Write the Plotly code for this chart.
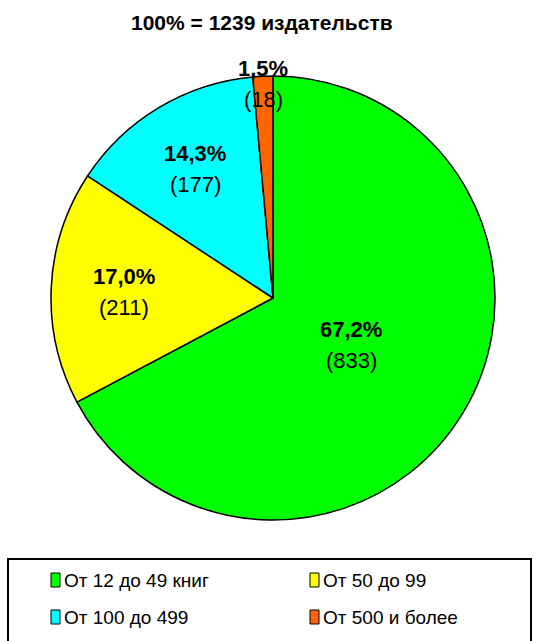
import math
import plotly.graph_objects as go

categories = ["От 12 до 49 книг", "От 50 до 99", "От 100 до 499", "От 500 и более"]
counts = [833, 211, 177, 18]
percents = [67.2, 17.0, 14.3, 1.5]
colors = ["#00FF00", "#FFFF00", "#00FFFF", "#FF6600"]
total_label = "100% = 1239 издательств"

W, H = 541, 641
cx, cy, R = 273, 298, 222          # pie centre / radius in px
label_r = [0.41, 0.67, 0.68, 0.965]  # label radius fraction per slice

fig = go.Figure(go.Pie(
    labels=categories, values=counts, sort=False, direction="clockwise",
    rotation=0, marker=dict(colors=colors, line=dict(color="black", width=1.5)),
    textinfo="none", hoverinfo="label+value+percent", showlegend=False,
    domain=dict(x=[(cx - R) / W, (cx + R) / W], y=[1 - (cy + R) / H, 1 - (cy - R) / H]),
))

font = "Liberation Sans, Arial, sans-serif"


def note(text, x, y, size, xanchor="center", yshift=0):
    return dict(text=text, x=x / W, y=1 - y / H, xref="paper", yref="paper",
                xanchor=xanchor, yanchor="middle", showarrow=False, yshift=yshift,
                font=dict(size=size, family=font, color="black"))


ann = [note("<b>" + total_label + "</b>", 262, 23, 21)]

tot = sum(counts)
cum = 0
for i, v in enumerate(counts):
    mid = (cum + v / 2) / tot * 2 * math.pi
    cum += v
    px = cx + R * label_r[i] * math.sin(mid)
    py = cy - R * label_r[i] * math.cos(mid)
    pct = f"{percents[i]:.1f}%".replace(".", ",")
    ann.append(note("<b>" + pct + "</b>", px, py, 22, yshift=15))
    ann.append(note(f"({v})", px, py, 22, yshift=-16))

shapes = [dict(type="rect", xref="paper", yref="paper", x0=8 / W, x1=531 / W, y0=-0.01, y1=1 - 559 / H,
               line=dict(color="black", width=2), fillcolor="white")]
col_x = [51, 310]
row_y = [580, 617]
for i, name in enumerate(categories):
    x0 = col_x[i % 2]
    y = row_y[i // 2]
    shapes.append(dict(type="rect", xref="paper", yref="paper", x0=x0 / W, x1=(x0 + 9) / W,
                       y0=1 - (y + 7) / H, y1=1 - (y - 7) / H,
                       fillcolor=colors[i], line=dict(color="black", width=1)))
    ann.append(note(name, x0 + 11, y, 19, xanchor="left"))

fig.update_layout(width=W, height=H, margin=dict(l=0, r=0, t=0, b=0),
                  paper_bgcolor="white", plot_bgcolor="white",
                  annotations=ann, shapes=shapes)
fig.write_html("out.html", config={"displayModeBar": False},
               post_script="document.body.style.margin='0px';")
